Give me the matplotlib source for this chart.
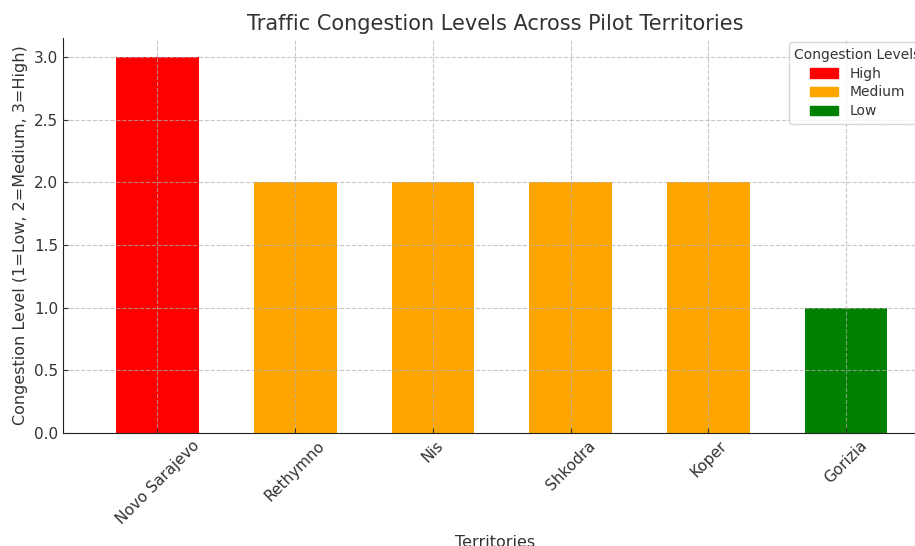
import matplotlib
matplotlib.use("Agg")
import matplotlib.pyplot as plt
from matplotlib.patches import Patch

territories = ["Novo Sarajevo", "Rethymno", "Nis", "Shkodra", "Koper", "Gorizia"]
levels = [3, 2, 2, 2, 2, 1]
level_names = {3: "High", 2: "Medium", 1: "Low"}
level_colors = {3: "red", 2: "orange", 1: "green"}

plt.rcParams["font.family"] = "DejaVu Sans"
txt = "#333333"
plt.rcParams["text.color"] = txt
plt.rcParams["axes.labelcolor"] = txt
plt.rcParams["xtick.color"] = txt
plt.rcParams["ytick.color"] = txt

fig = plt.figure(figsize=(9.15, 5.46), dpi=100)
ax = fig.add_axes([63 / 915, 1 - 433 / 546, (927 - 63) / 915, (433 - 38) / 546])

colors = [level_colors[v] for v in levels]
ax.bar(territories, levels, width=0.6, color=colors)
ax.set_xlim(-0.686, 5.587)
ax.set_ylim(0, 3.15)

ax.grid(True, linestyle="--", color="#b0b0b0", alpha=0.7, linewidth=0.8)
ax.set_axisbelow(False)
for s in ["top", "right"]:
    ax.spines[s].set_visible(False)
ax.spines["left"].set_color("#222222")
ax.spines["bottom"].set_color("#222222")
ax.tick_params(direction="in", labelsize=11)
plt.setp(ax.get_xticklabels(), rotation=45, ha="center", fontsize=11)

ax.set_title("Traffic Congestion Levels Across Pilot Territories", fontsize=15, pad=6)
ax.set_ylabel("Congestion Level (1=Low, 2=Medium, 3=High)", fontsize=11.5)
ax.set_xlabel("Territories", fontsize=11.5, labelpad=6)

handles = [Patch(color=level_colors[k], label=level_names[k]) for k in [3, 2, 1]]
ax.legend(handles=handles, title="Congestion Levels", loc="upper right",
          bbox_to_anchor=(1.004, 1.0), fontsize=10, title_fontsize=10,
          labelspacing=0.35, borderaxespad=0.3)

fig.savefig("out.png", dpi=100)
